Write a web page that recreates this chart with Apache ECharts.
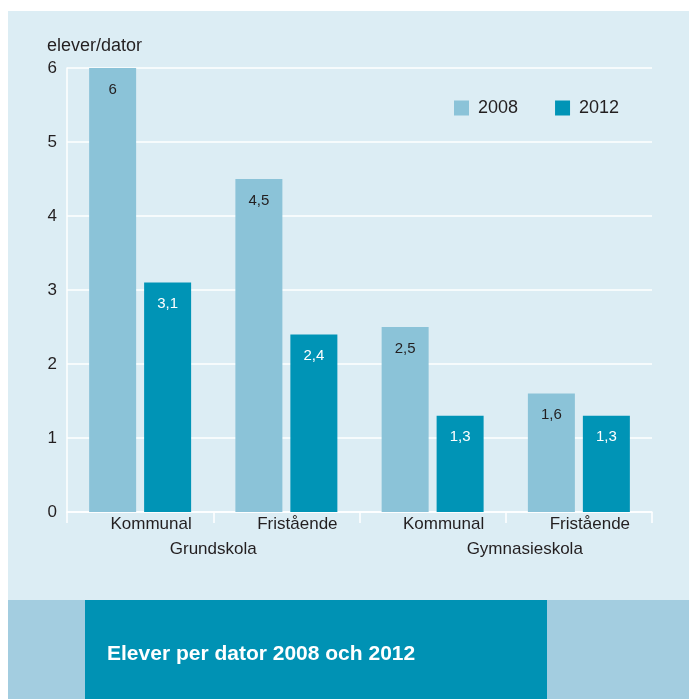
<!DOCTYPE html>
<html>
<head>
<meta charset="utf-8">
<script src="https://cdn.jsdelivr.net/npm/echarts@6/dist/echarts.min.js"></script>
<style>
html,body{margin:0;padding:0;background:#fff;}
#c{width:689px;height:699px;}
</style>
</head>
<body>
<div id="c"></div>
<script>
var schoolForms = ["Kommunal", "Fristående", "Kommunal", "Fristående"];
var schoolLevels = ["Grundskola", "Gymnasieskola"];
var years = ["2008", "2012"];
var values2008 = [6, 4.5, 2.5, 1.6];
var values2012 = [3.1, 2.4, 1.3, 1.3];
var yTicks = [0, 1, 2, 3, 4, 5, 6];
var yAxisName = "elever/dator";
var chartTitle = "Elever per dator 2008 och 2012";

var FONT = '"Liberation Sans", Arial, sans-serif';
var TXT = '#231f20';
var catKeys = schoolForms.map(function (f, i) { return i + '|' + f; });

function fmt(v) { return String(v).replace('.', ','); }

var chart = echarts.init(document.getElementById('c'), null, {renderer: 'canvas'});
chart.setOption({
  animation: false,
  textStyle: {fontFamily: FONT},
  graphic: [
    {type: 'rect', z: -100, shape: {x: 8, y: 11, width: 681, height: 589}, style: {fill: '#dcedf4'}, silent: true},
    {type: 'rect', z: -100, shape: {x: 8, y: 600, width: 681, height: 99}, style: {fill: '#a3cde0'}, silent: true},
    {type: 'rect', z: -99, shape: {x: 85, y: 600, width: 462, height: 99}, style: {fill: '#0092b4'}, silent: true},
    {type: 'text', z: 10, left: 107, top: 644, style: {text: chartTitle, fill: '#ffffff', font: 'bold 21px ' + FONT}},
    {type: 'text', z: 10, left: 47, top: 37, style: {text: yAxisName, fill: TXT, font: '18px ' + FONT}}
  ],
  legend: {
    data: years,
    left: 454, top: 99,
    padding: 0,
    itemWidth: 15, itemHeight: 15, itemGap: 37,
    icon: 'rect',
    textStyle: {fontSize: 18, color: TXT, fontFamily: FONT, padding: [0, 0, 0, 4]}
  },
  grid: {left: 67, right: 37, top: 68, bottom: 187, containLabel: false},
  xAxis: [
    {
      type: 'category',
      data: catKeys,
      position: 'bottom',
      axisLine: {show: true, lineStyle: {color: '#ffffff', width: 1.5}},
      axisTick: {show: true, interval: 0, length: 11, lineStyle: {color: '#ffffff', width: 1.5}},
      axisLabel: {
        interval: 0, margin: 4, fontSize: 17, color: TXT,
        padding: [0, 0, 0, 22],
        formatter: function (v) { return v.split('|')[1]; }
      },
      splitLine: {show: false}
    },
    {
      type: 'category',
      data: schoolLevels,
      position: 'bottom',
      offset: 25,
      axisLine: {show: false},
      axisTick: {show: false},
      axisLabel: {
        interval: 0, margin: 4, fontSize: 17, color: TXT,
        formatter: function (v, i) { return i === 0 ? '{a|' + v + '}' : '{b|' + v + '}'; },
        rich: {
          a: {fontSize: 17, color: TXT, fontFamily: FONT},
          b: {fontSize: 17, color: TXT, fontFamily: FONT, padding: [0, 0, 0, 38]}
        }
      },
      splitLine: {show: false}
    }
  ],
  yAxis: {
    type: 'value',
    min: yTicks[0], max: yTicks[yTicks.length - 1], interval: 1,
    axisLine: {show: true, lineStyle: {color: '#ffffff', width: 1.5}},
    axisTick: {show: false},
    axisLabel: {fontSize: 17, color: TXT, margin: 10},
    splitLine: {show: true, lineStyle: {color: '#ffffff', width: 1.5}}
  },
  series: [
    {
      name: years[0], type: 'bar', xAxisIndex: 0,
      data: values2008,
      barWidth: 47, barGap: '17%',
      itemStyle: {color: '#8bc3d8'},
      label: {show: true, position: 'insideTop', distance: 14, fontSize: 15, color: TXT, formatter: function (p) { return fmt(p.value); }}
    },
    {
      name: years[1], type: 'bar', xAxisIndex: 0,
      data: values2012,
      barWidth: 47, barGap: '17%',
      itemStyle: {color: '#0094b6'},
      label: {show: true, position: 'insideTop', distance: 14, fontSize: 15, color: '#ffffff', formatter: function (p) { return fmt(p.value); }}
    }
  ]
});
</script>
</body>
</html>
